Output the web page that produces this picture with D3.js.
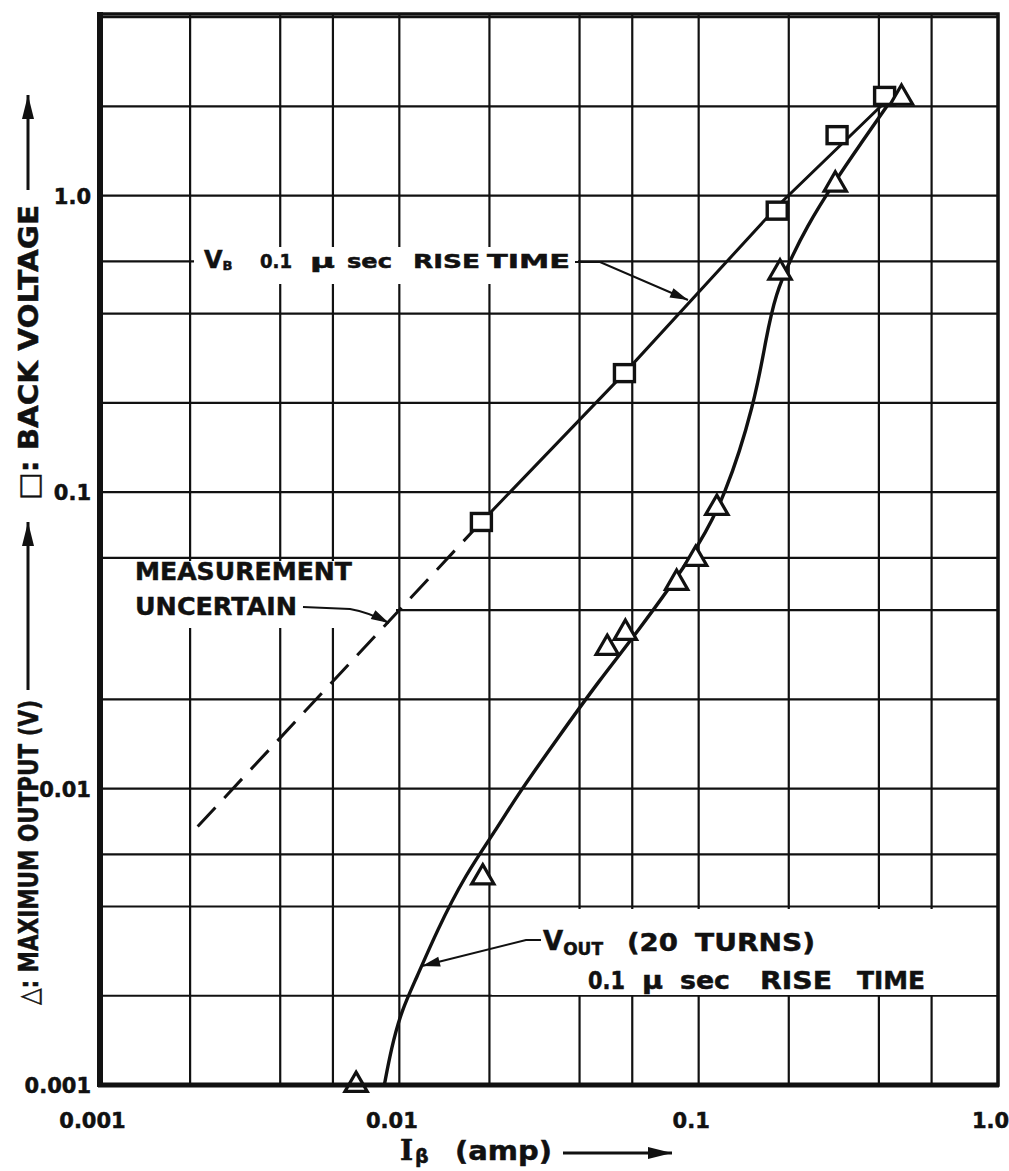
<!DOCTYPE html>
<html>
<head>
<meta charset="utf-8">
<script src="https://cdn.jsdelivr.net/npm/d3@7/dist/d3.min.js"></script>
<style>
body{margin:0;background:#fff;}
text{font-family:"DejaVu Sans",sans-serif;font-weight:bold;fill:#111;stroke:#111;stroke-width:0.5px;}
</style>
</head>
<body>
<div id="plot"></div>
<script>
//Axis ticks and labels
var xTicks = [0.001, 0.01, 0.1, 1],
	xTickLabels = ['0.001', '0.01', '0.1', '1.0'];
var yTicks = [0.001, 0.01, 0.1, 1],
	yTickLabels = ['0.001', '0.01', '0.1', '1.0'];
var gridSteps = [1, 2, 4, 6];   // grid lines inside each decade

//Measured points
var backI = [0.0188, 0.0565, 0.183, 0.29, 0.418];
var backV = [0.0793, 0.252, 0.89, 1.60, 2.17];
var outI = [0.00717, 0.0190, 0.0495, 0.0569, 0.0844, 0.0977, 0.115, 0.187, 0.286, 0.476];
var outV = [0.001, 0.00501, 0.0298, 0.0335, 0.0494, 0.0595, 0.0884, 0.550, 1.089, 2.138];

//Drawn curves
var backFitI = [0.0188, 0.0565, 0.185, 0.424];
var backFitV = [0.0793, 0.252, 0.93, 2.09];
var backDashI = [0.00212, 0.0188];
var backDashV = [0.00745, 0.0793];
var outFitI = [0.00891, 0.0094, 0.01016, 0.0114, 0.01331, 0.01652, 0.02149, 0.02432, 0.03364, 0.0469, 0.061, 0.0977, 0.1222, 0.154, 0.168, 0.181, 0.202, 0.2286, 0.2818, 0.347, 0.431];
var outFitV = [0.001, 0.00133, 0.00178, 0.00229, 0.00329, 0.00508, 0.00749, 0.00923, 0.0147, 0.0234, 0.0327, 0.0628, 0.0955, 0.1995, 0.333, 0.468, 0.604, 0.78, 1.098, 1.493, 2.04];

var W = 1009, H = 1171;
var svg = d3.select('#plot').append('svg').attr('width', W).attr('height', H);

var x = d3.scaleLog().domain([0.001, 1]).range([100, 998]);
var y = d3.scaleLog().domain([0.001, 4.1]).range([1085, 14]);

var defs = svg.append('defs');
defs.append('marker').attr('id', 'head').attr('markerUnits', 'userSpaceOnUse')
	.attr('viewBox', '-20 -6 22 12').attr('refX', 0).attr('refY', 0)
	.attr('markerWidth', 22).attr('markerHeight', 12).attr('orient', 'auto')
	.append('path').attr('d', 'M0,0 L-18,-5 L-18,5 Z').attr('fill', '#111');
defs.append('marker').attr('id', 'bighead').attr('markerUnits', 'userSpaceOnUse')
	.attr('viewBox', '-26 -8 28 16').attr('refX', 0).attr('refY', 0)
	.attr('markerWidth', 28).attr('markerHeight', 16).attr('orient', 'auto')
	.append('path').attr('d', 'M0,0 L-24,-6 L-24,6 Z').attr('fill', '#111');

//grid
function gridValues(lo, hi) {
	var vals = [];
	for (var d = lo; d < hi * 1.0001; d *= 10) {
		gridSteps.forEach(function (s) {
			var v = d * s;
			if (v <= hi * 1.0001) vals.push(v);
		});
	}
	return vals;
}
var grid = svg.append('g').attr('stroke', '#111').attr('stroke-width', 2.2);
gridValues(0.001, 1).forEach(function (v) {
	grid.append('line').attr('x1', x(v)).attr('x2', x(v)).attr('y1', y.range()[1]).attr('y2', y.range()[0]);
});
gridValues(0.001, 4.1).forEach(function (v) {
	grid.append('line').attr('y1', y(v)).attr('y2', y(v)).attr('x1', x.range()[0]).attr('x2', x.range()[1]);
});

//white patches behind the notes
svg.append('rect').attr('x', 194).attr('y', 247).attr('width', 384).attr('height', 37).attr('fill', '#fff');
svg.append('rect').attr('x', 102).attr('y', 561).attr('width', 294).attr('height', 67).attr('fill', '#fff');
svg.append('rect').attr('x', 492).attr('y', 909).attr('width', 505).attr('height', 86).attr('fill', '#fff');

//curves
var line = d3.line().x(function (d) { return x(d[0]); }).y(function (d) { return y(d[1]); });
svg.append('path').datum(d3.zip(backDashI, backDashV)).attr('d', line)
	.attr('fill', 'none').attr('stroke', '#111').attr('stroke-width', 3).attr('stroke-dasharray', '26,13');
svg.append('path').datum(d3.zip(backFitI, backFitV)).attr('d', line)
	.attr('fill', 'none').attr('stroke', '#111').attr('stroke-width', 3);
svg.append('path').datum(d3.zip(outFitI, outFitV)).attr('d', line.curve(d3.curveBasis))
	.attr('fill', 'none').attr('stroke', '#111').attr('stroke-width', 3.4);

//markers
svg.selectAll('.sq').data(d3.zip(backI, backV)).enter().append('rect')
	.attr('class', 'sq')
	.attr('x', function (d) { return x(d[0]) - 10; })
	.attr('y', function (d) { return y(d[1]) - 8.5; })
	.attr('width', 20).attr('height', 17)
	.attr('fill', '#fff').attr('stroke', '#111').attr('stroke-width', 3.4);
svg.selectAll('.tri').data(d3.zip(outI, outV)).enter().append('path')
	.attr('class', 'tri')
	.attr('transform', function (d) { return 'translate(' + x(d[0]) + ',' + y(d[1]) + ')'; })
	.attr('d', d3.symbol().type(d3.symbolTriangle).size(215))
	.attr('fill', '#fff').attr('stroke', '#111').attr('stroke-width', 3.2);

//frame
svg.append('rect').attr('x', 100).attr('y', 14).attr('width', 898).attr('height', 1071)
	.attr('fill', 'none').attr('stroke', '#111').attr('stroke-width', 3.5);
svg.append('line').attr('x1', 100).attr('x2', 100).attr('y1', 12).attr('y2', 1087)
	.attr('stroke', '#111').attr('stroke-width', 6);
svg.append('line').attr('x1', 98).attr('x2', 999).attr('y1', 1085).attr('y2', 1085)
	.attr('stroke', '#111').attr('stroke-width', 5);

//axes (labels only)
var xAxis = d3.axisBottom(x).tickValues(xTicks).tickSize(0).tickPadding(0)
	.tickFormat(function (d, i) { return xTickLabels[i]; });
var gx = svg.append('g').attr('transform', 'translate(-8,1128)').call(xAxis);
var yAxis = d3.axisLeft(y).tickValues(yTicks).tickSize(0).tickPadding(0)
	.tickFormat(function (d, i) { return yTickLabels[i]; });
var gy = svg.append('g').attr('transform', 'translate(91,1)').call(yAxis);
[gx, gy].forEach(function (g) {
	g.select('.domain').remove();
	g.selectAll('text').style('font-size', '21px').style('font-family', '"DejaVu Sans",sans-serif')
		.style('font-weight', 'bold').attr('fill', '#111');
});
gx.selectAll('text').attr('dy', 0);

//x title
var xt = svg.append('text').attr('x', 400).attr('y', 1160).style('font-size', '28px');
xt.append('tspan').text('I').style('font-family', '"DejaVu Serif",serif');
xt.append('tspan').text('β').attr('dx', 2).attr('dy', 3).style('font-size', '19px');
svg.append('text').attr('x', 455).attr('y', 1160).attr('textLength', 97).attr('lengthAdjust', 'spacingAndGlyphs')
	.style('font-size', '27px').text('(amp)');
svg.append('line').attr('x1', 563).attr('x2', 672).attr('y1', 1153).attr('y2', 1153)
	.attr('stroke', '#111').attr('stroke-width', 3).attr('marker-end', 'url(#bighead)');

//y title
var yt = svg.append('g').attr('transform', 'translate(38,0) rotate(-90)');
yt.append('text').attr('x', -1005).attr('y', 0).attr('textLength', 305).attr('lengthAdjust', 'spacingAndGlyphs')
	.style('font-size', '27px').text('△: MAXIMUM OUTPUT (V)');
yt.append('line').attr('x1', -690).attr('x2', -522).attr('y1', -10).attr('y2', -10)
	.attr('stroke', '#111').attr('stroke-width', 3).attr('marker-end', 'url(#bighead)');
yt.append('text').attr('x', -500).attr('y', 0).attr('textLength', 295).attr('lengthAdjust', 'spacingAndGlyphs')
	.style('font-size', '27px').text('□: BACK VOLTAGE');
yt.append('line').attr('x1', -190).attr('x2', -95).attr('y1', -10).attr('y2', -10)
	.attr('stroke', '#111').attr('stroke-width', 3).attr('marker-end', 'url(#bighead)');

//words of a note, each fitted between two x positions
function words(list, base, size) {
	list.forEach(function (w) {
		svg.append('text').attr('x', w[1]).attr('y', base)
			.attr('textLength', w[2] - w[1]).attr('lengthAdjust', 'spacingAndGlyphs')
			.style('font-size', size + 'px').text(w[0]);
	});
}

//note: back voltage
var n1 = svg.append('text').attr('x', 204).attr('y', 268).style('font-size', '24px');
n1.append('tspan').text('V');
n1.append('tspan').text('B').attr('dy', 2).style('font-size', '13px');
words([['0.1', 260, 292], ['μ', 310, 335], ['sec', 347, 392], ['RISE', 413, 480], ['TIME', 487, 570]], 268, 20);
svg.append('path').attr('d', 'M575,262 L600,262 L688,300')
	.attr('fill', 'none').attr('stroke', '#111').attr('stroke-width', 2).attr('marker-end', 'url(#head)');

//note: measurement uncertain
words([['MEASUREMENT', 135, 352]], 580, 25);
words([['UNCERTAIN', 135, 297]], 615, 25);
svg.append('path').attr('d', 'M303,607 L350,609 Q368,612 389,623')
	.attr('fill', 'none').attr('stroke', '#111').attr('stroke-width', 2).attr('marker-end', 'url(#head)');

//note: output
var n3 = svg.append('text').attr('x', 543).attr('y', 950).style('font-size', '26px');
n3.append('tspan').text('V');
n3.append('tspan').text('OUT').attr('dy', 5).style('font-size', '17px');
words([['(20', 627, 678], ['TURNS)', 695, 815]], 951, 25);
words([['0.1', 588, 625], ['μ', 642, 663], ['sec', 680, 730], ['RISE', 760, 832], ['TIME', 857, 925]], 989, 25);
svg.append('path').attr('d', 'M541,940 L526,940 L422,966')
	.attr('fill', 'none').attr('stroke', '#111').attr('stroke-width', 2).attr('marker-end', 'url(#head)');
</script>
</body>
</html>
